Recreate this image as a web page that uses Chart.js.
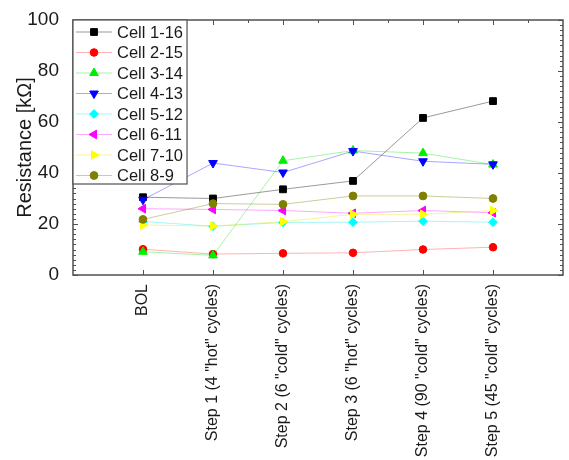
<!DOCTYPE html>
<html>
<head>
<meta charset="utf-8">
<script src="https://cdn.jsdelivr.net/npm/chart.js@4.4.0/dist/chart.umd.min.js"></script>
<style>
  html, body { margin: 0; padding: 0; background: #fff; overflow: hidden; }
  canvas { display: block; }
</style>
</head>
<body>
<canvas id="chart" width="569" height="460"></canvas>
<script>
// test stages along the x axis
const stepLabels = [
  "BOL",
  'Step 1 (4 "hot" cycles)',
  'Step 2 (6 "cold" cycles)',
  'Step 3 (6 "hot" cycles)',
  'Step 4 (90 "cold" cycles)',
  'Step 5 (45 "cold" cycles)'
];

const seriesNames = ["Cell 1-16", "Cell 2-15", "Cell 3-14", "Cell 4-13", "Cell 5-12", "Cell 6-11", "Cell 7-10", "Cell 8-9"];

// resistance in kOhm at each stage
const cell1_16 = [30.5, 30.0, 33.6, 36.9, 61.6, 68.2];
const cell2_15 = [10.1, 8.2, 8.5, 8.7, 10.0, 10.9];
const cell3_14 = [9.1, 7.7, 44.8, 48.8, 47.8, 43.3];
const cell4_13 = [29.5, 43.9, 40.2, 48.6, 44.6, 43.4];
const cell5_12 = [21.0, 19.1, 20.6, 20.7, 21.1, 20.7];
const cell6_11 = [26.0, 25.7, 25.3, 24.2, 25.3, 24.4];
const cell7_10 = [19.6, 19.2, 20.9, 23.8, 23.8, 25.3];
const cell8_9 = [21.8, 28.0, 27.7, 31.0, 31.0, 30.0];

const seriesValues = [cell1_16, cell2_15, cell3_14, cell4_13, cell5_12, cell6_11, cell7_10, cell8_9];

const yTicks = [0, 20, 40, 60, 80, 100];

// marker + line look per series
const styles = [
  { marker: "#000000", line: "rgba(0,0,0,0.4)", shape: "rect", rot: 0, r: 4.8 },
  { marker: "#ff0000", line: "rgba(255,0,0,0.3)", shape: "circle", rot: 0, r: 3.8 },
  { marker: "#00ee00", line: "rgba(0,220,0,0.35)", shape: "triangle", rot: 0, r: 5 },
  { marker: "#0000ff", line: "rgba(0,0,255,0.35)", shape: "triangle", rot: 180, r: 5 },
  { marker: "#00ffff", line: "rgba(0,230,230,0.35)", shape: "rectRot", rot: 0, r: 4.4 },
  { marker: "#ff00ff", line: "rgba(255,0,255,0.35)", shape: "triangle", rot: -90, r: 5 },
  { marker: "#ffff00", line: "rgba(230,230,0,0.4)", shape: "triangle", rot: 90, r: 5 },
  { marker: "#808000", line: "rgba(128,128,0,0.4)", shape: "circle", rot: 0, r: 3.9 }
];

const fontFamily = "'Liberation Sans', Arial, sans-serif";
const textColor = "#1a1a1a";
const axisColor = "#505050";

const datasets = seriesValues.map((vals, i) => ({
  label: seriesNames[i],
  data: vals.map((v, j) => ({ x: j + 1, y: v })),
  borderColor: styles[i].line,
  borderWidth: 1,
  pointStyle: styles[i].shape,
  pointRotation: styles[i].rot,
  pointRadius: styles[i].r,
  pointBackgroundColor: styles[i].marker,
  pointBorderColor: styles[i].marker,
  pointBorderWidth: 1,
  tension: 0,
  order: seriesValues.length - i
}));

// box frame with inward ticks, then the boxed legend in the top-left corner
const frameAndLegend = {
  id: "frameAndLegend",
  afterDraw(chart) {
    const { ctx, chartArea: a, scales: { x, y } } = chart;
    ctx.save();

    ctx.strokeStyle = axisColor;
    ctx.lineWidth = 1;
    ctx.beginPath();
    for (let v = 0; v <= 100; v += 2) {
      const py = Math.round(y.getPixelForValue(v)) + 0.5;
      const len = v % 20 === 0 ? 5 : 3;
      ctx.moveTo(a.left, py); ctx.lineTo(a.left + len, py);
      ctx.moveTo(a.right, py); ctx.lineTo(a.right - len, py);
    }
    for (let i = 1; i <= stepLabels.length; i++) {
      const px = Math.round(x.getPixelForValue(i)) + 0.5;
      ctx.moveTo(px, a.bottom); ctx.lineTo(px, a.bottom - 5);
      ctx.moveTo(px, a.top); ctx.lineTo(px, a.top + 5);
    }
    for (let i = 0.5; i < stepLabels.length + 1; i += 1) {
      const px = Math.round(x.getPixelForValue(i)) + 0.5;
      ctx.moveTo(px, a.top); ctx.lineTo(px, a.top + 3);
    }
    ctx.stroke();

    ctx.lineWidth = 1.5;
    ctx.strokeRect(a.left, a.top, a.right - a.left, a.bottom - a.top);

    // legend
    const sets = chart.data.datasets;
    ctx.font = "16.5px " + fontFamily;
    const textW = Math.max(...sets.map(d => ctx.measureText(d.label).width));
    const rowH = 20.5;
    const w = 44 + textW + 4;
    const h = sets.length * rowH;
    ctx.fillStyle = "#ffffff";
    ctx.fillRect(a.left, a.top, w, h);
    ctx.strokeStyle = axisColor;
    ctx.lineWidth = 1.2;
    ctx.strokeRect(a.left, a.top, w, h);

    sets.forEach((d, i) => {
      const cy = a.top + 12 + i * rowH;
      ctx.strokeStyle = d.borderColor;
      ctx.lineWidth = 1;
      ctx.beginPath();
      ctx.moveTo(a.left + 3, cy);
      ctx.lineTo(a.left + 39, cy);
      ctx.stroke();
      ctx.fillStyle = d.pointBackgroundColor;
      ctx.strokeStyle = d.pointBorderColor;
      Chart.helpers.drawPoint(ctx, {
        pointStyle: d.pointStyle,
        rotation: d.pointRotation,
        radius: d.pointRadius,
        borderWidth: 1
      }, a.left + 21, cy);
      ctx.fillStyle = textColor;
      ctx.textBaseline = "middle";
      ctx.textAlign = "left";
      ctx.fillText(d.label, a.left + 44, cy + 1);
    });
    ctx.restore();
  }
};

new Chart(document.getElementById("chart"), {
  type: "line",
  data: { datasets },
  options: {
    responsive: false,
    animation: false,
    devicePixelRatio: 1,
    layout: { padding: { top: 20, right: 2, left: 0, bottom: 0 } },
    plugins: {
      legend: { display: false },
      tooltip: { enabled: false }
    },
    scales: {
      x: {
        type: "linear",
        min: 0,
        max: stepLabels.length + 1,
        grid: { display: false },
        border: { display: false },
        ticks: {
          stepSize: 1,
          autoSkip: false,
          minRotation: 90,
          maxRotation: 90,
          padding: 1,
          color: textColor,
          font: { size: 16, family: fontFamily },
          callback: v => stepLabels[v - 1] ?? ""
        },
        afterFit(s) {
          s.height = 185;
          s.paddingLeft = 0;
          s.paddingRight = 0;
        }
      },
      y: {
        min: 0,
        max: 100,
        grid: { display: false },
        border: { display: false },
        afterBuildTicks(s) {
          s.ticks = yTicks.map(v => ({ value: v }));
        },
        ticks: {
          padding: 6,
          color: textColor,
          font: { size: 19, family: fontFamily }
        },
        title: {
          display: true,
          text: "Resistance [kΩ]",
          color: textColor,
          font: { size: 20, family: fontFamily },
          padding: { top: 13, bottom: 4 }
        },
        afterFit(s) {
          s.width = 73;
        }
      }
    }
  },
  plugins: [frameAndLegend]
});
</script>
</body>
</html>
